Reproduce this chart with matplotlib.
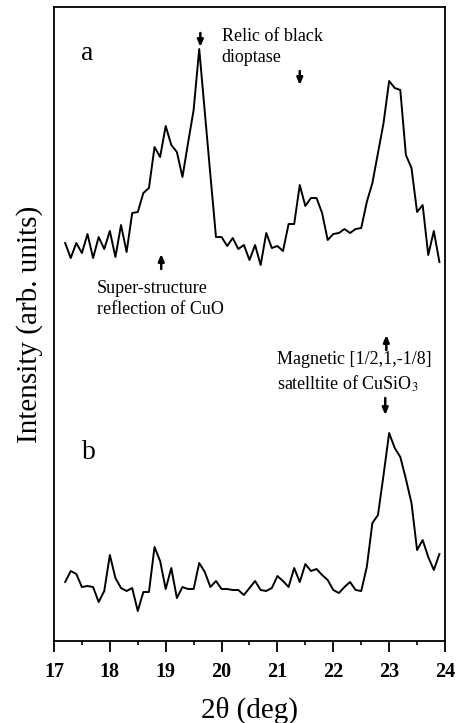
import numpy as np
import matplotlib.pyplot as plt

plt.rcParams['font.family'] = ['Liberation Serif', 'DejaVu Serif']
plt.rcParams['mathtext.fontset'] = 'stix'

# 2theta grid (deg)
two_theta = np.round(np.arange(17.2, 23.95, 0.1), 1)

# pattern a (arb. units)
int_a = [398, 383, 398, 388, 407, 383, 404, 392, 410, 384,
         416, 389, 428, 429, 448, 453, 494, 484, 515, 496,
         489, 464, 498, 531, 592, 529, 466, 404, 404, 395,
         403, 392, 396, 381, 396, 376, 408, 393, 395, 390,
         417, 417, 456, 435, 443, 443, 428, 401, 407, 408,
         412, 408, 412, 413, 439, 458, 488, 518, 560, 553,
         551, 486, 473, 429, 436, 386, 410, 379]

# pattern b (arb. units)
int_b = [59, 70, 67, 54, 55, 54, 39, 50, 86, 63,
         53, 50, 53, 30, 49, 49, 94, 80, 52, 73,
         43, 54, 52, 52, 78, 69, 54, 60, 52, 52,
         51, 51, 46, 53, 60, 51, 50, 53, 65, 60,
         54, 73, 59, 77, 70, 72, 66, 61, 51, 48,
         54, 59, 51, 50, 74, 118, 126, 166, 208, 193,
         184, 162, 138, 91, 101, 84, 71, 87]

# arrows: (2theta, tail, head)
arrows = [(19.62, 608, 594), (21.4, 570, 556), (18.92, 372, 387),
          (22.95, 291, 306), (22.93, 243, 226)]

fig = plt.figure(figsize=(4.59, 7.23), dpi=100)
ax = fig.add_axes([0.1176, 0.1134, 0.8519, 0.8769])

ax.plot(two_theta, int_a, color='black', lw=1.4)
ax.plot(two_theta, int_b, color='black', lw=1.4)

for x, y0, y1 in arrows:
    ax.annotate('', xy=(x, y1), xytext=(x, y0),
                arrowprops=dict(arrowstyle='-|>,head_length=0.4,head_width=0.17',
                                color='black', lw=1.8, shrinkA=0, shrinkB=0))

ax.text(17.59, 588, 'a', fontsize=20, ha='center', va='center')
ax.text(17.63, 189, 'b', fontsize=20, ha='center', va='center')
ax.text(20.0, 613, 'Relic of black\ndioptase', fontsize=13, va='top',
        linespacing=1.32)
ax.text(17.77, 361, 'Super-structure\nreflection of CuO', fontsize=13,
        va='top', linespacing=1.32)
ax.text(21.0, 290, 'Magnetic [1/2,1,-1/8]\nsatelltite of CuSiO$_{\\mathrm{3}}$',
        fontsize=13, va='top', linespacing=1.32)

ax.set_xlim(17, 24)
ax.set_ylim(0, 634)
ax.set_xticks(range(17, 25))
ax.set_xticks(np.arange(17.5, 24, 1.0), minor=True)
ax.set_yticks([])
ax.tick_params(axis='x', which='major', length=8, width=1.3, pad=7,
               labelsize=14.5)
ax.tick_params(axis='x', which='minor', length=3, width=1.2)
for lab in ax.get_xticklabels():
    lab.set_fontweight('bold')
for sp in ax.spines.values():
    sp.set_linewidth(1.3)

ax.set_xlabel('2\u03b8 (deg)', fontsize=21, labelpad=11)
ax.set_ylabel('Intensity (arb. units)', fontsize=21, labelpad=8)

fig.savefig('out.png', dpi=100)
